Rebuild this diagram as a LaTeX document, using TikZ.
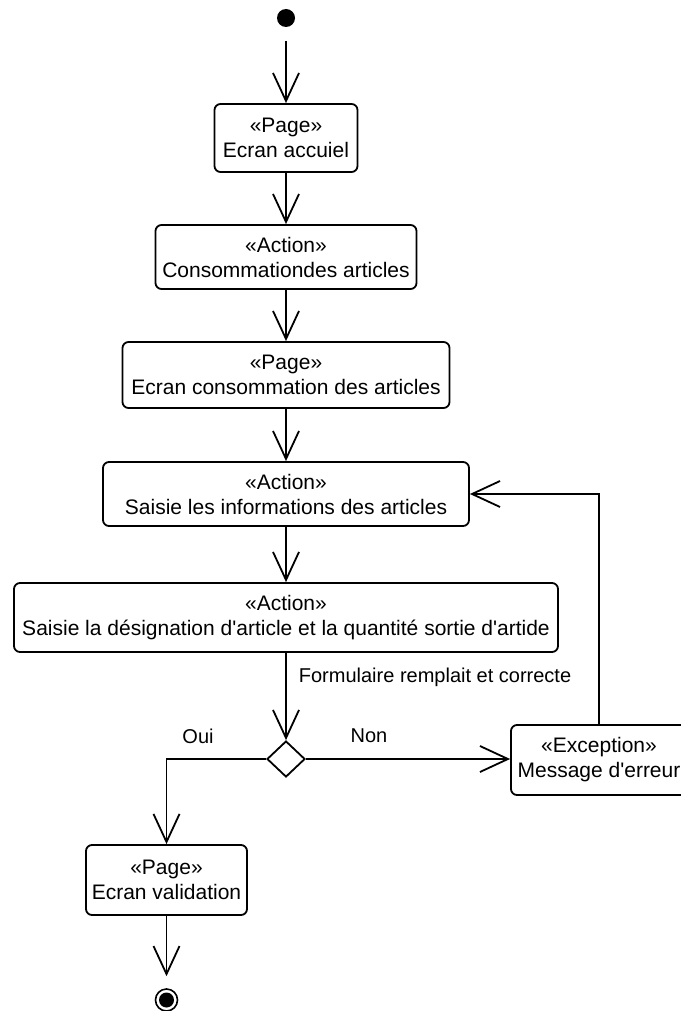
\documentclass[tikz,border=0pt]{standalone}
\usepackage{fontspec}
\setmainfont{Liberation Sans}
\usetikzlibrary{arrows.meta,shapes.geometric}
\newcommand{\apos}{\textquotesingle}
\begin{document}
\begin{tikzpicture}[x=1pt,y=-1pt,
  line width=1.8pt,
  every node/.style={font=\fontsize{20}{25}\selectfont},
  actbox/.style={draw, rounded corners=6pt, align=center, inner sep=0pt,
    font=\fontsize{21}{25}\selectfont},
  arr/.style={-{Straight Barb[length=28pt,width=26pt,line width=1.8pt]}},
  lbl/.style={inner sep=0pt}
]
\useasboundingbox (0,0) rectangle (680,1011);

% initial and final states
\node[circle, fill=black, minimum size=18pt, inner sep=0pt] (start) at (286,18) {};
\node[circle, draw, line width=1.6pt, minimum size=22pt, inner sep=0pt] (stop) at (166.5,1000) {};
\fill (stop.center) circle (7.5pt);

% activity boxes
\node[actbox, minimum width=143pt, minimum height=68pt] (b1) at (286,138) {«Page»\\Ecran accuiel};
\node[actbox, minimum width=261pt, minimum height=64pt] (b2) at (286,257) {«Action»\\Consommationdes articles};
\node[actbox, minimum width=327pt, minimum height=66pt] (b3) at (286,375) {«Page»\\Ecran consommation des articles};
\node[actbox, minimum width=366pt, minimum height=64pt] (b4) at (286,494) {«Action»\\Saisie les informations des articles};
\node[actbox, minimum width=544pt, minimum height=69pt] (b5) at (286,617.5) {«Action»\\Saisie la désignation d\apos article et la quantité sortie d\apos artide};
\node[actbox, minimum width=176pt, minimum height=70pt] (exc) at (599,760) {«Exception»\\Message d\apos erreur};
\node[actbox, minimum width=161pt, minimum height=70pt] (b6) at (166.5,880) {«Page»\\Ecran validation};

% decision
\node[diamond, draw, minimum width=38pt, minimum height=36pt, inner sep=0pt] (dec) at (286,759) {};

% labels
\node[lbl, anchor=west] (guard) at (298,677) {Formulaire remplait et correcte};
\node[lbl] (oui) at (198,736) {Oui};
\node[lbl] (non) at (369,736) {Non};

% flow
\draw[arr, shorten <=13pt] (start) -- (b1);
\draw[arr] (b1) -- (b2);
\draw[arr] (b2) -- (b3);
\draw[arr] (b3) -- (b4);
\draw[arr] (b4) -- (b5);
\draw[arr] (b5) -- (dec);
\draw[arr] (dec.east) -- (dec.east -| exc.west);
\draw[arr] (dec.west) -| (b6.north);
\draw[arr] (exc.north) |- (b4.east);
\draw[arr, shorten >=12pt] (b6) -- (stop);
\end{tikzpicture}
\end{document}
